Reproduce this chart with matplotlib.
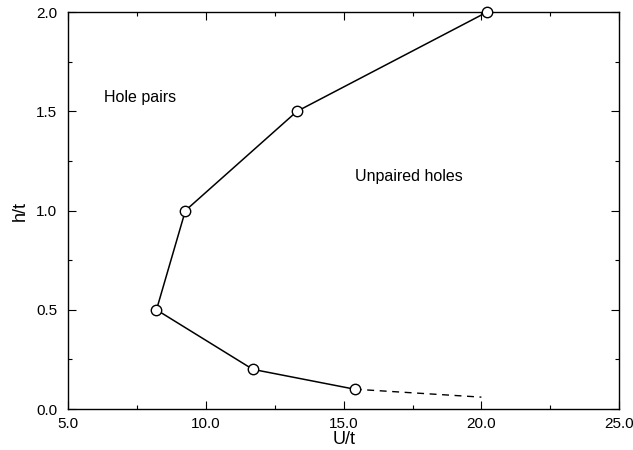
import matplotlib
matplotlib.use("Agg")
import matplotlib.pyplot as plt
from matplotlib.ticker import MultipleLocator, FormatStrFormatter

plt.rcParams['font.family'] = ['Liberation Sans', 'DejaVu Sans']

# Phase boundary between paired and unpaired holes
u_t = [20.2, 13.3, 9.25, 8.2, 11.7, 15.4]
h_t = [2.0, 1.5, 1.0, 0.5, 0.2, 0.1]

# Extrapolated tail of the boundary
u_ext = [15.4, 20.0]
h_ext = [0.1, 0.06]

fig = plt.figure(figsize=(6.33, 4.5), dpi=100)
ax = fig.add_axes([0.108, 0.091, 0.870, 0.882])

ax.plot(u_ext, h_ext, color='black', lw=1.0, ls=(0, (5, 4)))
ax.plot(u_t, h_t, color='black', lw=1.1, marker='o', markersize=7.5,
        markerfacecolor='white', markeredgecolor='black', markeredgewidth=1.0,
        zorder=3, clip_on=False)

ax.set_xlim(5, 25)
ax.set_ylim(0, 2)
ax.xaxis.set_major_locator(MultipleLocator(5))
ax.xaxis.set_minor_locator(MultipleLocator(2.5))
ax.yaxis.set_major_locator(MultipleLocator(0.5))
ax.yaxis.set_minor_locator(MultipleLocator(0.25))
ax.xaxis.set_major_formatter(FormatStrFormatter('%.1f'))
ax.yaxis.set_major_formatter(FormatStrFormatter('%.1f'))
ax.tick_params(which='both', direction='in', top=True, right=True,
               labelsize=11, width=0.8)
ax.tick_params(which='major', length=6)
ax.tick_params(which='minor', length=3)
ax.tick_params(axis='x', which='major', pad=5.5)
ax.tick_params(axis='y', which='major', pad=8)
for s in ax.spines.values():
    s.set_linewidth(1.0)

ax.set_xlabel('U/t', fontsize=13, labelpad=0)
ax.set_ylabel('h/t', fontsize=13, labelpad=5)

ax.text(6.3, 1.57, 'Hole pairs', fontsize=11.5, va='center', ha='left')
ax.text(15.4, 1.17, 'Unpaired holes', fontsize=11.5, va='center', ha='left')

fig.savefig('out.png', dpi=100)
